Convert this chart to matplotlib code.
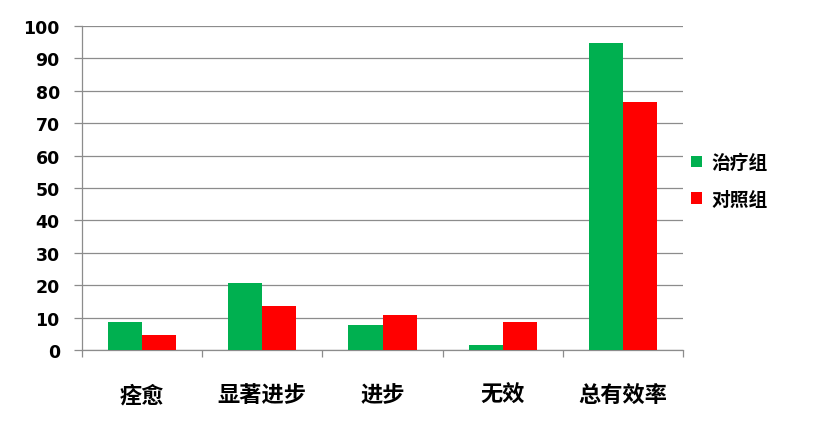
import matplotlib
matplotlib.use('Agg')
import matplotlib.pyplot as plt
import numpy as np

categories = ['痊愈', '显著进步', '进步', '无效', '总有效率']
treatment = [8.6, 20.6, 7.7, 1.5, 94.8]
control = [4.6, 13.5, 10.8, 8.6, 76.6]
series_names = ['治疗组', '对照组']
yticks = [0, 10, 20, 30, 40, 50, 60, 70, 80, 90, 100]

cjk = ['Noto Sans CJK SC', 'DejaVu Sans']

fig = plt.figure(figsize=(8.17, 4.35), dpi=100)
ax = fig.add_axes([82 / 817, (435 - 351) / 435, (683 - 82) / 817, (351 - 27) / 435])

x = np.arange(len(categories))
w = 0.283
ax.bar(x - w / 2, treatment, width=w, color='#00B050', label=series_names[0], zorder=3)
ax.bar(x + w / 2, control, width=w, color='#FF0000', label=series_names[1], zorder=3)

ax.set_xlim(-0.5, len(categories) - 0.5)
ax.set_ylim(0, 100)
ax.set_yticks(yticks)
ax.yaxis.grid(True, color='#8c8c8c', linewidth=0.9, zorder=0)
ax.set_axisbelow(True)

for s in ['top', 'right']:
    ax.spines[s].set_visible(False)
for s in ['left', 'bottom']:
    ax.spines[s].set_color('#8c8c8c')
    ax.spines[s].set_linewidth(0.9)

ax.tick_params(axis='y', length=6, width=0.9, color='#8c8c8c', pad=10)
for lab in ax.get_yticklabels():
    lab.set_fontsize(12.5)
    lab.set_fontweight('bold')
    lab.set_family('DejaVu Sans')

ax.set_xticks(x)
ax.set_xticklabels(categories, family=cjk, fontsize=16, fontweight='bold')
ax.tick_params(axis='x', which='major', length=0, pad=24)
ax.set_xticks(np.arange(-0.5, len(categories)), minor=True)
ax.tick_params(axis='x', which='minor', length=5, width=0.9, color='#8c8c8c')

fig.legend(loc='center left', bbox_to_anchor=(674 / 817, 1 - 182 / 435), frameon=False,
           prop={'family': cjk, 'size': 13.5, 'weight': 'bold'},
           handlelength=0.6, handleheight=0.6, handletextpad=0.5, labelspacing=0.95)

fig.savefig('out.png', dpi=100)
